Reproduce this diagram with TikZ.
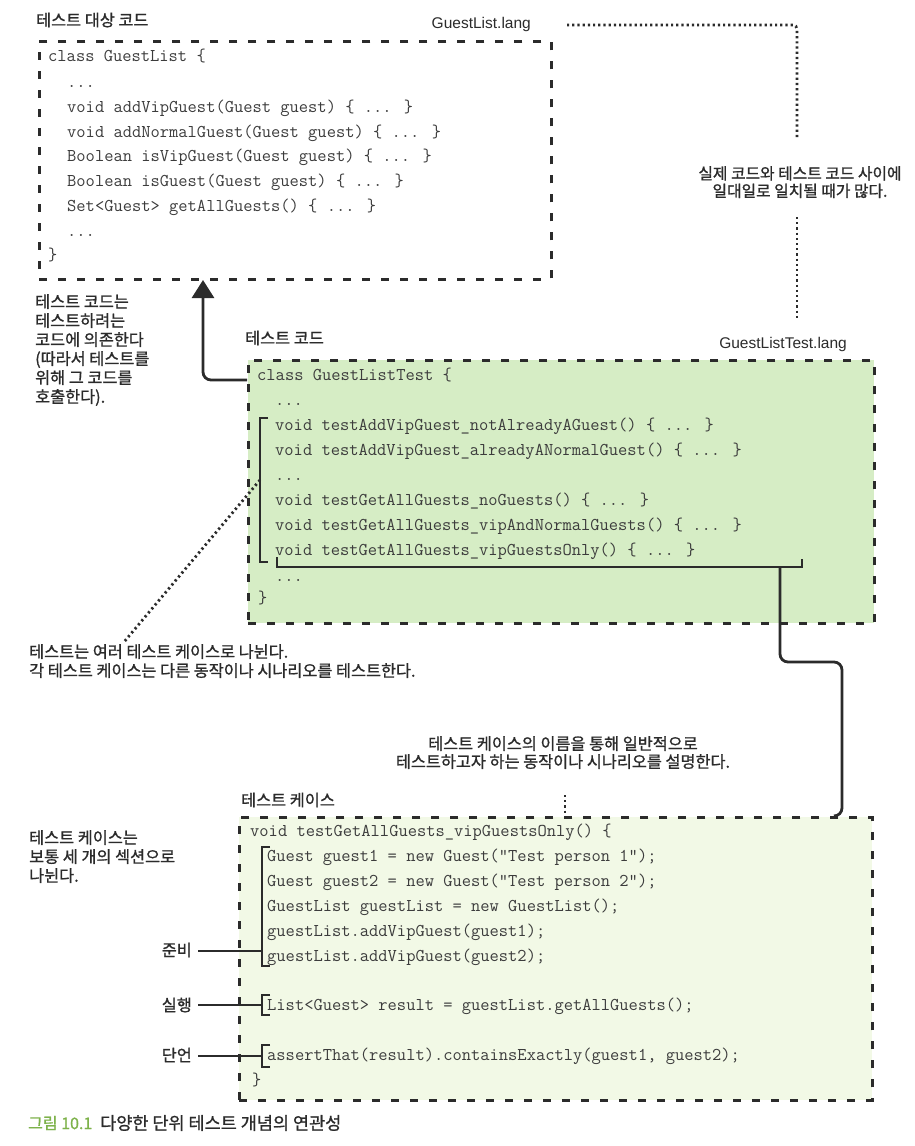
\documentclass[tikz,border=0pt]{standalone}
\usepackage{fontspec}
\usetikzlibrary{arrows.meta,calc}
\newfontfamily\krfont[FakeBold=1]{Noto Sans CJK KR}
\newfontfamily\latinsans{Liberation Sans}
\definecolor{ink}{HTML}{2B2B2B}
\definecolor{codegray}{HTML}{3C3C3C}
\definecolor{greenA}{HTML}{D6EDC5}
\definecolor{greenB}{HTML}{F2F9E6}
\definecolor{capgreen}{HTML}{7DB24A}
\tikzset{
  box/.style={draw=ink, line width=2.6pt, dash pattern=on 8pt off 11pt, inner sep=0pt, anchor=north west},
  codeline/.style={font=\ttfamily\fontsize{18}{20}\selectfont, text=codegray, anchor=west, inner sep=0pt, text height=10pt, text depth=3pt},
  lbl/.style={font=\krfont\fontsize{16.3}{19}\selectfont, text=ink, inner sep=0pt},
  fname/.style={font=\latinsans\fontsize{15.5}{18}\selectfont, text=ink, inner sep=0pt},
  conn/.style={draw=ink, line width=2.8pt, rounded corners=8pt},
  brk/.style={draw=ink, line width=2.8pt},
  dots/.style={draw=ink, line width=2.8pt, dash pattern=on 2.2pt off 3pt}
}
\begin{document}
\begin{tikzpicture}[x=1pt,y=-1pt]
\fill[white] (0,0) rectangle (914,1146);
\useasboundingbox (0,0) rectangle (914,1146);

% ---------- top box ----------
\node[lbl, anchor=west] (srctitle) at (36,20) {테스트 대상 코드};
\node[fname, anchor=east] (srcfile) at (531,24) {GuestList.lang};
\node[box, minimum width=512pt, minimum height=238pt] (src) at (38,40) {};
\node[codeline] (s1) at (48,58) {class GuestList \{};
\node[codeline] (s2) at (67,84) {...};
\node[codeline] (s3) at (67,109) {void addVipGuest(Guest guest) \{ ... \}};
\node[codeline] (s4) at (67,134) {void addNormalGuest(Guest guest) \{ ... \}};
\node[codeline] (s5) at (67,158) {Boolean isVipGuest(Guest guest) \{ ... \}};
\node[codeline] (s6) at (67,183) {Boolean isGuest(Guest guest) \{ ... \}};
\node[codeline] (s7) at (67,208) {Set<Guest> getAllGuests() \{ ... \}};
\node[codeline] (s8) at (67,233) {...};
\node[codeline] (s9) at (48,257) {\}};

% ---------- note top right ----------
\node[lbl, align=center, font=\krfont\fontsize{15.8}{17.5}\selectfont, anchor=north] (onetoone) at (800,166) {실제 코드와 테스트 코드 사이에\\일대일로 일치될 때가 많다.};
\coordinate (dA) at (567,25);
\coordinate (dB) at (797,137);
\coordinate (dC) at (797,217);
\coordinate (dD) at (797,320);
\draw[dots, rounded corners=4pt] (dA) -| (dB);
\draw[dots] (dC) -- (dD);

% ---------- middle box ----------
\node[lbl, anchor=west] (tsttitle) at (245,338) {테스트 코드};
\node[fname, anchor=east] (tstfile) at (847,344) {GuestListTest.lang};
\node[box, fill=greenA, minimum width=626pt, minimum height=263pt] (tst) at (247,359) {};
\node[codeline] (t1) at (257,377) {class GuestListTest \{};
\node[codeline] (t2) at (275,402) {...};
\node[codeline] (t3) at (275,427) {void testAddVipGuest\_notAlreadyAGuest() \{ ... \}};
\node[codeline] (t4) at (275,452) {void testAddVipGuest\_alreadyANormalGuest() \{ ... \}};
\node[codeline] (t5) at (275,477) {...};
\node[codeline] (t6) at (275,502) {void testGetAllGuests\_noGuests() \{ ... \}};
\node[codeline] (t7) at (275,527) {void testGetAllGuests\_vipAndNormalGuests() \{ ... \}};
\node[codeline] (t8) at (275,552) {void testGetAllGuests\_vipGuestsOnly() \{ ... \}};
\node[codeline] (t9) at (275,578) {...};
\node[codeline] (t10) at (258,600) {\}};

% bracket around test cases
\draw[brk] (268,418) -- (260,418) -- (260,562) -- (268,562);
% bracket under last test case
\coordinate (bL) at (277,557);
\coordinate (bR) at (802,559);
\coordinate (bM) at (780,567);
\draw[brk] (bL) -- (277,567) -- (802,567) -- (bR);

% arrow to source
\coordinate (arrowtip) at (203,280);
\draw[conn, -{Triangle[width=22pt,length=18pt]}] (tst.west |- 0,380) -| (arrowtip);

% ---------- left labels ----------
\node[lbl, align=left, anchor=north west] (dependnote) at (35,294) {테스트 코드는\\테스트하려는\\코드에 의존한다\\(따라서 테스트를\\위해 그 코드를\\호출한다).};

\node[lbl, align=left, anchor=north west] (splitnote) at (29,644) {테스트는 여러 테스트 케이스로 나뉜다.\\각 테스트 케이스는 다른 동작이나 시나리오를 테스트한다.};
\coordinate (diagA) at (260,480);
\coordinate (diagB) at (124,642);
\draw[dots] (diagA) -- (diagB);

\node[lbl, align=center, font=\krfont\fontsize{16.3}{18}\selectfont, anchor=north] (namenote) at (563,736) {테스트 케이스의 이름을 통해 일반적으로\\테스트하고자 하는 동작이나 시나리오를 설명한다.};
\coordinate (nA) at (565,795);
\coordinate (nB) at (565,820);
\draw[dots] (nA) -- (nB);

% ---------- bottom box ----------
\node[lbl, anchor=west] (casetitle) at (241,800) {테스트 케이스};
\node[box, fill=greenB, minimum width=633pt, minimum height=283pt] (case) at (238,816) {};
\node[codeline] (c1) at (250,833) {void testGetAllGuests\_vipGuestsOnly() \{};
\node[codeline] (c2) at (267,858) {Guest guest1 = new Guest("Test person 1");};
\node[codeline] (c3) at (267,883) {Guest guest2 = new Guest("Test person 2");};
\node[codeline] (c4) at (267,908) {GuestList guestList = new GuestList();};
\node[codeline] (c5) at (267,933) {guestList.addVipGuest(guest1);};
\node[codeline] (c6) at (267,958) {guestList.addVipGuest(guest2);};
\node[codeline] (c7) at (267,1007) {List<Guest> result = guestList.getAllGuests();};
\node[codeline] (c8) at (267,1057) {assertThat(result).containsExactly(guest1, guest2);};
\node[codeline] (c9) at (252,1082) {\}};

% connector middle -> bottom
\coordinate (caseTop) at (836,816);
\draw[conn] (bM) -- (780,662) -- (842,662) -- (842,816) -- (caseTop);

% section labels
\node[lbl, align=left, anchor=north west] (sectnote) at (29,830) {테스트 케이스는\\보통 세 개의 섹션으로\\나뉜다.};
\node[lbl, anchor=east] (arrange) at (192,950) {준비};
\node[lbl, anchor=east] (act) at (192,1005) {실행};
\node[lbl, anchor=east] (assert) at (192,1055) {단언};

\draw[brk] (270,847) -- (262,847) -- (262,966) -- (270,966);
\draw[brk] (arrange.east) ++(6,1) -- (262,951);
\draw[brk] (270,995) -- (262,995) -- (262,1015) -- (270,1015);
\draw[brk] (act.east) ++(6,0) -- (262,1005);
\draw[brk] (270,1045) -- (262,1045) -- (262,1067) -- (270,1067);
\draw[brk] (assert.east) ++(6,1) -- (262,1056);

% ---------- caption ----------
\node[lbl, anchor=west, text=capgreen, font=\krfont\fontsize{16}{18}\selectfont] (capnum) at (28,1123) {그림 10.1};
\node[lbl, anchor=west, font=\krfont\fontsize{17.5}{18}\selectfont] (captext) at (100,1123) {다양한 단위 테스트 개념의 연관성};
\end{tikzpicture}
\end{document}
